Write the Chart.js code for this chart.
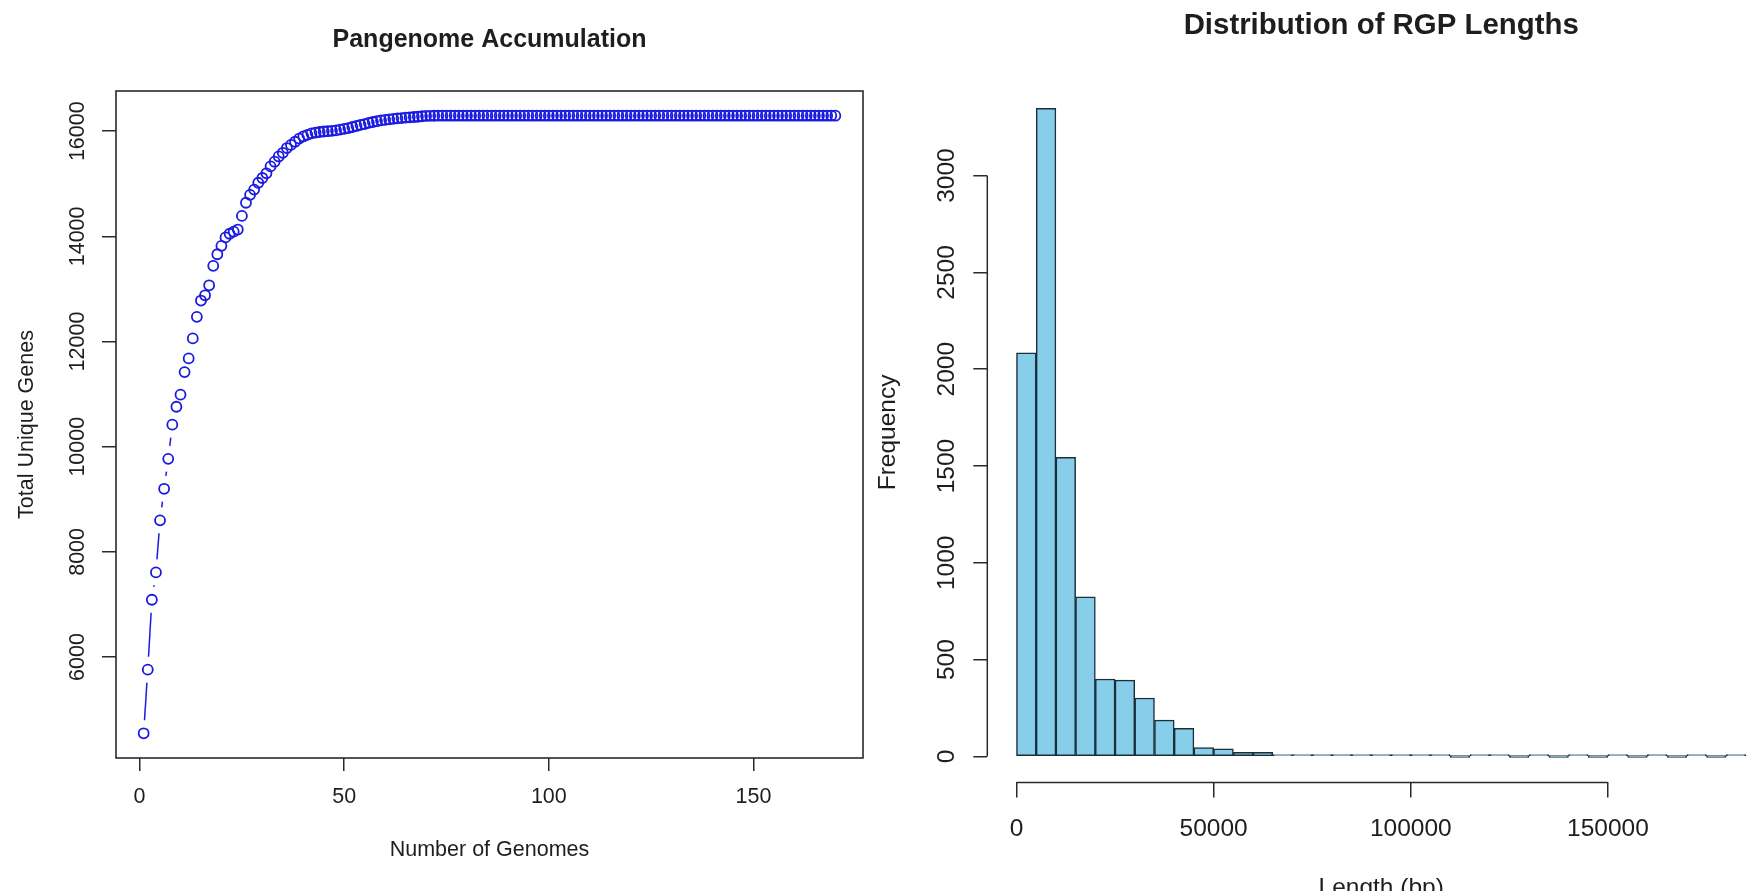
<!DOCTYPE html>
<html>
<head>
<meta charset="utf-8">
<script src="https://cdn.jsdelivr.net/npm/chart.js@4.4.1/dist/chart.umd.min.js"></script>
<style>
  html, body { margin: 0; padding: 0; background: #fff; width: 1754px; height: 891px; overflow: hidden; }
  #leftBox { position: absolute; left: 0; top: 0; width: 900px; height: 891px; }
  #rightBox { position: absolute; left: 870px; top: 0; width: 910px; height: 920px; }
  canvas { display: block; }
</style>
</head>
<body>
<div id="leftBox"><canvas id="accum" width="900" height="891"></canvas></div>
<div id="rightBox"><canvas id="hist" width="910" height="920"></canvas></div>
<script>
// ---------------- DATA ----------------
// Left: cumulative number of unique genes vs number of genomes (1..170)
const totalUniqueGenes = [
  4550, 5760, 7090, 7610, 8600, 9200, 9770, 10420, 10760, 10990,
  11420, 11680, 12060, 12470, 12780, 12880, 13070, 13440, 13660, 13820,
  13980, 14050, 14090, 14130, 14390, 14640, 14790, 14890, 15020, 15110,
  15200, 15330, 15420, 15520, 15590, 15680, 15740, 15800, 15860, 15900,
  15930, 15960, 15975, 15985, 15995, 16000, 16005, 16015, 16030, 16045,
  16060, 16080, 16100, 16120, 16135, 16160, 16175, 16190, 16205, 16215,
  16225, 16235, 16245, 16250, 16260, 16265, 16270, 16275, 16285, 16290,
  16292, 16294, 16295, 16295, 16295, 16295, 16295, 16295, 16295, 16295,
  16295, 16295, 16295, 16295, 16295, 16295, 16295, 16295, 16295, 16295,
  16295, 16295, 16295, 16295, 16295, 16295, 16295, 16295, 16295, 16295,
  16295, 16295, 16295, 16295, 16295, 16295, 16295, 16295, 16295, 16295,
  16295, 16295, 16295, 16295, 16295, 16295, 16295, 16295, 16295, 16295,
  16295, 16295, 16295, 16295, 16295, 16295, 16295, 16295, 16295, 16295,
  16295, 16295, 16295, 16295, 16295, 16295, 16295, 16295, 16295, 16295,
  16295, 16295, 16295, 16295, 16295, 16295, 16295, 16295, 16295, 16295,
  16295, 16295, 16295, 16295, 16295, 16295, 16295, 16295, 16295, 16295,
  16295, 16295, 16295, 16295, 16295, 16295, 16295, 16295, 16295, 16295
];
const genomeNumbers = totalUniqueGenes.map((_, i) => i + 1);
const accumXTicks = [0, 50, 100, 150];
const accumYTicks = [6000, 8000, 10000, 12000, 14000, 16000];

// Right: histogram of RGP lengths (bins of 5000 bp)
const binWidth = 5000;
const binStarts = [
  0, 5000, 10000, 15000, 20000, 25000, 30000, 35000, 40000, 45000,
  50000, 55000, 60000, 65000, 70000, 75000, 80000, 85000, 90000, 95000,
  100000, 105000, 110000, 115000, 120000, 125000, 130000, 135000, 140000, 145000,
  150000, 155000, 160000, 165000, 170000, 175000, 180000
];
const binCounts = [
  2085, 3347, 1545, 825, 400, 394, 302, 188, 145, 46,
  40, 22, 21, 10, 6, 3, 4, 5, 4, 3,
  1, 1, 0, 1, 1, 0, 1, 0, 1, 0,
  1, 0, 1, 0, 1, 0, 1
];
const histXTicks = [0, 50000, 100000, 150000];
const histYTicks = [0, 500, 1000, 1500, 2000, 2500, 3000];

// ---------------- STYLE ----------------
const FONT = "'Liberation Sans', Arial, Helvetica, sans-serif";
const INK = '#1e1e1e';
const BLUE = '#1a1ae0';
Chart.defaults.font.family = FONT;
Chart.defaults.color = INK;

// R-like axis range: data range extended by 4% on each side
function rRange(lo, hi) { const d = (hi - lo) * 0.04; return [lo - d, hi + d]; }

const accX = rRange(Math.min(...genomeNumbers), Math.max(...genomeNumbers));
const accY = rRange(Math.min(...totalUniqueGenes), Math.max(...totalUniqueGenes));
const hX = rRange(Math.min(...binStarts), Math.max(...binStarts) + binWidth);
const hY = rRange(0, Math.max(...binCounts));

// R type="b": line segments leave a gap around each point symbol
const PT_GAP = 13;
function segLen(ctx) { return Math.hypot(ctx.p1.x - ctx.p0.x, ctx.p1.y - ctx.p0.y); }

// Box around the plot region (R's box())
const boxPlugin = {
  id: 'rbox',
  afterDraw(chart) {
    const {ctx, chartArea: a} = chart;
    ctx.save();
    ctx.strokeStyle = '#2a2a2a';
    ctx.lineWidth = 1.6;
    ctx.strokeRect(a.left, a.top, a.right - a.left, a.bottom - a.top);
    ctx.restore();
  }
};

// R-style axis lines spanning first..last tick
const axisLinePlugin = {
  id: 'raxis',
  afterDraw(chart) {
    const {ctx, chartArea: a, scales: {x, y}} = chart;
    ctx.save();
    ctx.strokeStyle = '#2a2a2a';
    ctx.lineWidth = 1.5;
    ctx.beginPath();
    ctx.moveTo(x.getPixelForValue(histXTicks[0]), a.bottom);
    ctx.lineTo(x.getPixelForValue(histXTicks[histXTicks.length - 1]), a.bottom);
    ctx.moveTo(a.left, y.getPixelForValue(histYTicks[0]));
    ctx.lineTo(a.left, y.getPixelForValue(histYTicks[histYTicks.length - 1]));
    ctx.stroke();
    ctx.restore();
  }
};

// ---------------- LEFT CHART ----------------
const fL = {family: FONT, size: 21.5};
new Chart(document.getElementById('accum'), {
  type: 'line',
  data: {
    datasets: [{
      data: genomeNumbers.map((g, i) => ({x: g, y: totalUniqueGenes[i]})),
      borderColor: BLUE,
      borderWidth: 1.5,
      borderCapStyle: 'butt',
      pointRadius: 5,
      pointBorderWidth: 1.8,
      pointBorderColor: BLUE,
      pointBackgroundColor: 'rgba(255,255,255,0)',
      tension: 0,
      fill: false,
      segment: {
        borderColor: ctx => segLen(ctx) > 2 * PT_GAP ? BLUE : 'rgba(0,0,0,0)',
        borderDash: ctx => {
          const L = segLen(ctx);
          return L > 2 * PT_GAP ? [0, PT_GAP, L - 2 * PT_GAP, 5000 + ctx.p0DataIndex] : [];
        }
      }
    }]
  },
  options: {
    responsive: false,
    animation: false,
    devicePixelRatio: 1,
    layout: {padding: {left: 0, right: 37, top: 0, bottom: 0}},
    plugins: {
      legend: {display: false},
      tooltip: {enabled: false},
      title: {
        display: true, text: 'Pangenome Accumulation', color: INK, fullSize: false,
        font: {family: FONT, size: 25, weight: 'bold'},
        padding: {top: 25, bottom: 36}
      }
    },
    scales: {
      x: {
        type: 'linear', min: accX[0], max: accX[1], offset: false,
        afterBuildTicks: s => { s.ticks = accumXTicks.map(v => ({value: v})); },
        afterFit: s => { s.height = 133; },
        ticks: {font: fL, color: INK, padding: 13, autoSkip: false, maxRotation: 0, callback: v => String(v)},
        grid: {display: true, drawOnChartArea: false, drawTicks: true, tickLength: 13, color: '#2a2a2a', lineWidth: 1.5, offset: false},
        border: {display: false},
        title: {display: true, text: 'Number of Genomes', font: fL, color: INK, padding: {top: 0, bottom: 28}}
      },
      y: {
        type: 'linear', min: accY[0], max: accY[1],
        afterBuildTicks: s => { s.ticks = accumYTicks.map(v => ({value: v})); },
        afterFit: s => { s.width = 116; },
        ticks: {font: fL, color: INK, padding: -6, minRotation: 90, maxRotation: 90, crossAlign: 'center', autoSkip: false, callback: v => String(v)},
        grid: {display: true, drawOnChartArea: false, drawTicks: true, tickLength: 14, color: '#2a2a2a', lineWidth: 1.5},
        border: {display: false},
        title: {display: true, text: 'Total Unique Genes', font: fL, color: INK, padding: {top: 14, bottom: 0}}
      }
    }
  },
  plugins: [boxPlugin]
});

// ---------------- RIGHT CHART ----------------
const fR = {family: FONT, size: 24.5};
new Chart(document.getElementById('hist'), {
  type: 'bar',
  data: {
    datasets: [{
      data: binStarts.map((s, i) => ({x: s + binWidth / 2, y: binCounts[i]})),
      backgroundColor: '#87CEEB',
      borderColor: '#1d2e3a',
      borderWidth: 1.5,
      borderSkipped: false,
      barPercentage: 1,
      categoryPercentage: 1,
      minBarLength: 2
    }]
  },
  options: {
    responsive: false,
    animation: false,
    devicePixelRatio: 1,
    layout: {padding: {left: 0, right: 4.9, top: 0, bottom: 0}},
    plugins: {
      legend: {display: false},
      tooltip: {enabled: false},
      title: {
        display: true, text: 'Distribution of RGP Lengths', color: INK, fullSize: false,
        font: {family: FONT, size: 29.4, weight: 'bold'},
        padding: {top: 8, bottom: 39.2}
      }
    },
    scales: {
      x: {
        type: 'linear', min: hX[0], max: hX[1], offset: false,
        afterBuildTicks: s => { s.ticks = histXTicks.map(v => ({value: v})); },
        afterFit: s => { s.height = 137.6; },
        ticks: {font: fR, color: INK, padding: 17, autoSkip: false, maxRotation: 0, callback: v => String(v)},
        grid: {display: true, drawOnChartArea: false, drawTicks: true, tickLength: 15, color: '#2a2a2a', lineWidth: 1.5, offset: false},
        border: {display: false},
        title: {display: true, text: 'Length (bp)', font: fR, color: INK, padding: {top: 0, bottom: 17}}
      },
      y: {
        type: 'linear', min: hY[0], max: hY[1],
        afterBuildTicks: s => { s.ticks = histYTicks.map(v => ({value: v})); },
        afterFit: s => { s.width = 117.3; },
        ticks: {font: fR, color: INK, padding: -1, minRotation: 90, maxRotation: 90, crossAlign: 'center', autoSkip: false, callback: v => String(v)},
        grid: {display: true, drawOnChartArea: false, drawTicks: true, tickLength: 14, color: '#2a2a2a', lineWidth: 1.5},
        border: {display: false},
        title: {display: true, text: 'Frequency', font: fR, color: INK, padding: {top: 3.3, bottom: 0}}
      }
    }
  },
  plugins: [axisLinePlugin]
});
</script>
</body>
</html>
